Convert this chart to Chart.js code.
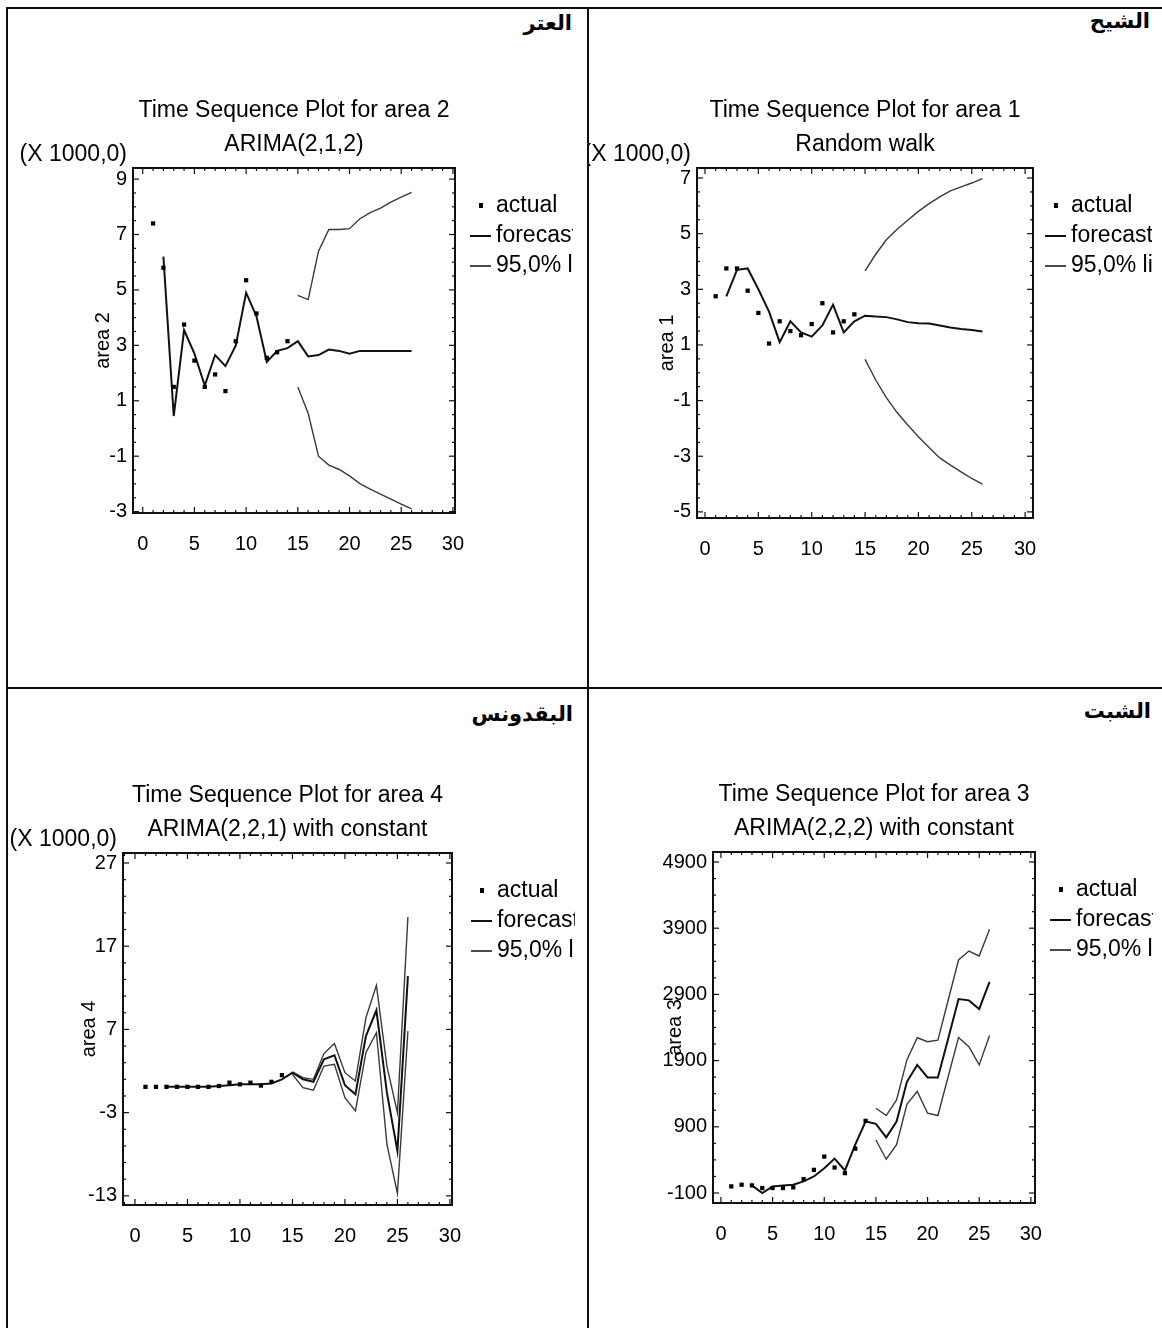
<!DOCTYPE html>
<html>
<head>
<meta charset="utf-8">
<script src="https://cdn.jsdelivr.net/npm/chart.js@4.4.1/dist/chart.umd.min.js"></script>
<style>
  body { margin: 0; background: #fff; width: 1162px; height: 1328px; position: relative; overflow: hidden; }
  .rule { position: absolute; background: #111; }
  .ar { position: absolute; font: bold 21px "DejaVu Sans", sans-serif; direction: rtl; text-align: right; line-height: 28px; white-space: nowrap; }
  canvas { position: absolute; }
</style>
</head>
<body>
<div class="rule" style="left:7px;top:7px;width:1155px;height:2px"></div>
<div class="rule" style="left:6px;top:7px;width:2px;height:1321px"></div>
<div class="rule" style="left:587px;top:7px;width:2px;height:1321px"></div>
<div class="rule" style="left:7px;top:687px;width:1155px;height:2px"></div>

<div class="ar" style="left:372px;width:200px;top:9px">العتر</div>
<div class="ar" style="left:950px;width:200px;top:7px">الشيح</div>
<div class="ar" style="left:373px;width:200px;top:700px">البقدونس</div>
<div class="ar" style="left:951px;width:200px;top:697px">الشبت</div>

<canvas id="c1" width="564" height="676" style="left:9px;top:10px"></canvas>
<canvas id="c2" width="563" height="676" style="left:589px;top:10px"></canvas>
<canvas id="c3" width="566" height="638" style="left:9px;top:690px"></canvas>
<canvas id="c4" width="564" height="638" style="left:589px;top:690px"></canvas>

<script>
// time index shared by all four plots
const periods = [1, 2, 3, 4, 5, 6, 7, 8, 9, 10, 11, 12, 13, 14, 15, 16, 17, 18, 19, 20, 21, 22, 23, 24, 25, 26];
const xTicks = [0, 5, 10, 15, 20, 25, 30];
const legendLabels = ["actual", "forecast", "95,0% limits"];
const _ = null;

// area 2 (العتر) - ARIMA(2,1,2), values x 1000
const area2Actual = [7.4, 5.8, 1.5, 3.75, 2.45, 1.5, 1.95, 1.35, 3.15, 5.35, 4.15, 2.55, 2.75, 3.15];
const area2Forecast = [_, 6.2, 0.45, 3.55, 2.7, 1.55, 2.65, 2.25, 3.0, 4.9, 4.05, 2.4, 2.8, 2.9, 3.15, 2.6, 2.65, 2.85, 2.8, 2.7, 2.8, 2.8, 2.8, 2.8, 2.8, 2.8];
const area2Upper = [_, _, _, _, _, _, _, _, _, _, _, _, _, _, 4.8, 4.65, 6.4, 7.18, 7.18, 7.21, 7.57, 7.79, 7.95, 8.17, 8.35, 8.52];
const area2Lower = [_, _, _, _, _, _, _, _, _, _, _, _, _, _, 1.5, 0.55, -1.0, -1.32, -1.48, -1.71, -1.99, -2.19, -2.37, -2.55, -2.73, -2.9];
const area2YTicks = [-3, -1, 1, 3, 5, 7, 9];

// area 1 (الشيح) - random walk, values x 1000
const area1Actual = [2.75, 3.75, 3.75, 2.95, 2.15, 1.05, 1.85, 1.5, 1.35, 1.75, 2.5, 1.45, 1.85, 2.1];
const area1Forecast = [_, 2.75, 3.7, 3.75, 3.0, 2.2, 1.1, 1.85, 1.45, 1.3, 1.7, 2.45, 1.45, 1.85, 2.05, 2.02, 2.0, 1.92, 1.82, 1.78, 1.77, 1.7, 1.63, 1.57, 1.54, 1.48];
const area1Upper = [_, _, _, _, _, _, _, _, _, _, _, _, _, _, 3.66, 4.26, 4.78, 5.16, 5.48, 5.8, 6.08, 6.32, 6.54, 6.68, 6.82, 6.98];
const area1Lower = [_, _, _, _, _, _, _, _, _, _, _, _, _, _, 0.48, -0.26, -0.89, -1.43, -1.88, -2.3, -2.69, -3.06, -3.32, -3.56, -3.8, -4.0];
const area1YTicks = [-5, -3, -1, 1, 3, 5, 7];

// area 4 (البقدونس) - ARIMA(2,2,1) with constant, values x 1000
const area4Actual = [0.1, 0.1, 0.1, 0.1, 0.1, 0.1, 0.1, 0.2, 0.6, 0.4, 0.6, 0.25, 0.7, 1.5];
const area4Forecast = [_, _, 0.1, 0.1, 0.1, 0.1, 0.1, 0.2, 0.3, 0.4, 0.4, 0.4, 0.5, 1.0, 1.8, 1.0, 0.7, 3.4, 3.9, 0.3, -0.8, 6.2, 9.3, -0.6, -7.6, 13.4];
const area4Upper = [_, _, _, _, _, _, _, _, _, _, _, _, _, _, 1.9, 1.2, 1.0, 4.1, 5.3, 1.8, 0.8, 8.4, 12.3, 2.6, -3.0, 20.5];
const area4Lower = [_, _, _, _, _, _, _, _, _, _, _, _, _, _, 1.6, 0.0, -0.3, 2.6, 2.8, -1.2, -2.8, 4.2, 6.6, -6.8, -12.7, 6.8];
const area4YTicks = [-13, -3, 7, 17, 27];

// area 3 (الشبت) - ARIMA(2,2,2) with constant
const area3Actual = [0, 25, 15, -25, -25, -25, -15, 110, 250, 450, 285, 200, 570, 990];
const area3Forecast = [_, _, 15, -100, 0, 15, 25, 75, 150, 275, 420, 240, 630, 980, 945, 740, 980, 1580, 1835, 1645, 1645, 2235, 2830, 2810, 2680, 3090];
const area3Upper = [_, _, _, _, _, _, _, _, _, _, _, _, _, _, 1180, 1070, 1305, 1910, 2245, 2185, 2210, 2815, 3420, 3555, 3480, 3885];
const area3Lower = [_, _, _, _, _, _, _, _, _, _, _, _, _, _, 700, 410, 630, 1240, 1435, 1105, 1070, 1660, 2250, 2110, 1835, 2280];
const area3YTicks = [-100, 900, 1900, 2900, 3900, 4900];

const FAMILY = '"Liberation Sans", Arial, sans-serif';

// frame with inward ticks, titles, scale note and legend
const framePlugin = {
  id: 'framePlugin',
  afterDraw(chart, args, o) {
    const { ctx, chartArea: a, scales: { x, y } } = chart;
    const seg = (x1, y1, x2, y2) => { ctx.beginPath(); ctx.moveTo(x1, y1); ctx.lineTo(x2, y2); ctx.stroke(); };
    ctx.save();
    ctx.strokeStyle = '#111';
    ctx.lineWidth = 2;
    ctx.strokeRect(a.left, a.top, a.right - a.left, a.bottom - a.top);

    ctx.lineWidth = 1.2;
    for (let v = Math.ceil(x.min); v <= x.max; v++) {
      const px = x.getPixelForValue(v);
      const len = xTicks.includes(v) ? 6 : 3;
      seg(px, a.bottom, px, a.bottom - len);
      seg(px, a.top, px, a.top + len);
    }
    let v0 = o.yTicks[0];
    while (v0 - o.yMinor >= y.min) v0 -= o.yMinor;
    for (let v = v0; v <= y.max + 1e-9; v += o.yMinor) {
      const py = y.getPixelForValue(v);
      const major = o.yTicks.some(t => Math.abs(t - v) < 1e-6);
      const len = major ? 6 : 3;
      seg(a.left, py, a.left + len, py);
      seg(a.right, py, a.right - len, py);
    }

    ctx.fillStyle = '#000';
    ctx.font = '23px ' + FAMILY;
    ctx.textBaseline = 'middle';
    ctx.textAlign = 'center';
    const cx = (a.left + a.right) / 2;
    ctx.fillText(o.title[0], cx, a.top - 57);
    ctx.fillText(o.title[1], cx, a.top - 23);
    if (o.note) {
      ctx.textAlign = 'right';
      ctx.fillText(o.note, a.left - 6, a.top - 13);
    }

    // legend, text runs past the canvas edge and is cut like the original
    ctx.textAlign = 'left';
    const lx = a.right + o.legendX;
    const rows = [38, 68, 98];
    ctx.fillRect(lx - 17, a.top + rows[0] - 3, 4, 5);
    ctx.lineWidth = 2;
    seg(lx - 26, a.top + rows[1], lx - 5, a.top + rows[1]);
    ctx.lineWidth = 1.5;
    seg(lx - 26, a.top + rows[2], lx - 5, a.top + rows[2]);
    legendLabels.forEach((t, i) => ctx.fillText(t, lx, a.top + rows[i]));
    ctx.restore();
  }
};

function makeChart(id, p) {
  const ctx = document.getElementById(id).getContext('2d');
  return new Chart(ctx, {
    type: 'line',
    data: {
      labels: periods,
      datasets: [
        { label: 'actual', data: p.actual, showLine: false, pointStyle: 'rect', pointRadius: 3, backgroundColor: '#000', borderColor: '#000', borderWidth: 0 },
        { label: 'forecast', data: p.forecast, borderColor: '#111', borderWidth: 2, pointRadius: 0, tension: 0 },
        { label: 'upper', data: p.upper, borderColor: '#3a3a3a', borderWidth: 1.4, pointRadius: 0, tension: 0 },
        { label: 'lower', data: p.lower, borderColor: '#3a3a3a', borderWidth: 1.4, pointRadius: 0, tension: 0 }
      ]
    },
    options: {
      responsive: false,
      animation: false,
      devicePixelRatio: 1,
      layout: { padding: p.pad },
      plugins: {
        legend: { display: false },
        tooltip: { enabled: false },
        framePlugin: { title: p.title, note: p.note, yTicks: p.yTicks, yMinor: p.yMinor, legendX: p.legendX }
      },
      scales: {
        x: {
          type: 'linear', min: p.xRange[0], max: p.xRange[1],
          afterBuildTicks: ax => { ax.ticks = xTicks.map(v => ({ value: v })); },
          afterFit: ax => { ax.height = 50; },
          grid: { display: false, drawTicks: false },
          border: { display: false },
          ticks: { color: '#000', padding: 19, autoSkip: false, maxRotation: 0, font: { size: 20, family: FAMILY }, callback: v => String(v) }
        },
        y: {
          type: 'linear', min: p.yRange[0], max: p.yRange[1],
          afterBuildTicks: ax => { ax.ticks = p.yTicks.map(v => ({ value: v })); },
          afterFit: ax => { ax.width = p.yWidth; },
          grid: { display: false, drawTicks: false },
          border: { display: false },
          ticks: { color: '#000', padding: 6, autoSkip: false, font: { size: 20, family: FAMILY }, callback: v => String(v) },
          title: { display: true, text: p.yTitle, color: '#000', padding: 0, font: { size: 20, family: FAMILY } }
        }
      }
    },
    plugins: [framePlugin]
  });
}

makeChart('c1', {
  actual: area2Actual, forecast: area2Forecast, upper: area2Upper, lower: area2Lower,
  yTicks: area2YTicks, yMinor: 0.5, xRange: [-0.94, 30.2], yRange: [-3.05, 9.4],
  title: ['Time Sequence Plot for area 2', 'ARIMA(2,1,2)'], note: '(X 1000,0)', yTitle: 'area 2',
  yWidth: 42, legendX: 41, pad: { left: 82, top: 158, right: 118, bottom: 123 }
});

makeChart('c2', {
  actual: area1Actual, forecast: area1Forecast, upper: area1Upper, lower: area1Lower,
  yTicks: area1YTicks, yMinor: 0.5, xRange: [-0.75, 30.74], yRange: [-5.22, 7.36],
  title: ['Time Sequence Plot for area 1', 'Random walk'], note: '(X 1000,0)', yTitle: 'area 1',
  yWidth: 42, legendX: 38, pad: { left: 66, top: 158, right: 119, bottom: 118 }
});

makeChart('c3', {
  actual: area4Actual, forecast: area4Forecast, upper: area4Upper, lower: area4Lower,
  yTicks: area4YTicks, yMinor: 2, xRange: [-1.14, 30.2], yRange: [-14.1, 28.2],
  title: ['Time Sequence Plot for area 4', 'ARIMA(2,2,1) with constant'], note: '(X 1000,0)', yTitle: 'area 4',
  yWidth: 46, legendX: 45, pad: { left: 68, top: 163, right: 123, bottom: 73 }
});

makeChart('c4', {
  actual: area3Actual, forecast: area3Forecast, upper: area3Upper, lower: area3Lower,
  yTicks: area3YTicks, yMinor: 250, xRange: [-0.77, 30.4], yRange: [-251, 5051],
  title: ['Time Sequence Plot for area 3', 'ARIMA(2,2,2) with constant'], note: null, yTitle: 'area 3',
  yWidth: 50, legendX: 41, pad: { left: 74, top: 162, right: 118, bottom: 75 }
});
</script>
</body>
</html>
